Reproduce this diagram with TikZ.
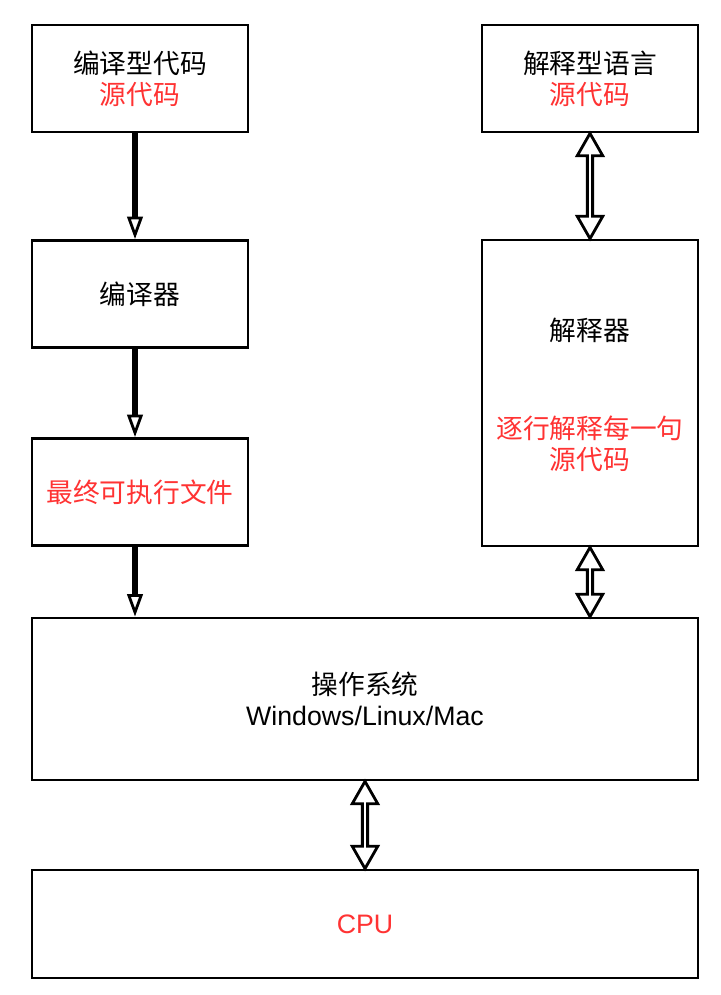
\documentclass[tikz,border=0pt]{standalone}
\usepackage{fontspec}
\setmainfont{Liberation Sans}
\newfontfamily\cjk{Noto Sans CJK SC}
\usepackage{tikz}
\usetikzlibrary{arrows.meta,calc}
\definecolor{rot}{HTML}{FF3333}
\tikzset{
  kasten/.style={draw=black,line width=2pt,fill=white,minimum width=5.4cm,minimum height=2.675cm,
    align=center,inner sep=0pt,font=\fontsize{19}{22}\selectfont},
  schrift/.style={align=center,inner sep=0pt,font=\fontsize{19}{22}\selectfont},
  pfeil/.style={-{Triangle[open,length=16pt,width=11pt,line width=2pt]},line width=4.2pt},
  dpf/.style={draw=black,fill=white,line width=2pt,line join=miter},
}
% Doppelpfeil als Umriss: von #1 (oben) nach #2 (unten)
\newcommand{\dpfeil}[2]{%
  \draw[dpf] (#1) -- ($(#1)+(0.32,-0.56)$) -- ($(#1)+(0.065,-0.56)$)
    -- ($(#2)+(0.065,0.56)$) -- ($(#2)+(0.32,0.56)$) -- (#2)
    -- ($(#2)+(-0.32,0.56)$) -- ($(#2)+(-0.065,0.56)$)
    -- ($(#1)+(-0.065,-0.56)$) -- ($(#1)+(-0.32,-0.56)$) -- cycle;}

\begin{document}
\begin{tikzpicture}
  \useasboundingbox[fill=white] (0,0) rectangle (18,-24.875);
  % linke Spalte: kompiliert
  \node[kasten] (quelle) at (3.5,-1.9625) {{\cjk 编译型代码}\\\textcolor{rot}{\cjk 源代码}};
  \node[kasten] (compiler) at (3.5,-7.35) {\cjk 编译器};
  \node[kasten] (exe) at (3.5,-12.3) {\textcolor{rot}{\cjk 最终可执行文件}};
  % rechte Spalte: interpretiert
  \node[kasten] (iquelle) at (14.75,-1.9625) {{\cjk 解释型语言}\\\textcolor{rot}{\cjk 源代码}};
  \node[kasten,minimum height=7.65cm] (interp) at (14.75,-9.825) {};
  \node[schrift] (interpname) at (14.75,-8.25) {\cjk 解释器};
  \node[schrift,text=rot] (interptext) at (14.75,-11.1) {\cjk 逐行解释每一句\\\cjk 源代码};
  % unten
  \node[kasten,minimum width=16.65cm,minimum height=4.05cm] (os) at (9.125,-17.475)
    {{\cjk 操作系统}\\Windows/Linux/Mac};
  \node[kasten,minimum width=16.65cm,minimum height=2.7cm] (cpu) at (9.125,-23.1)
    {\textcolor{rot}{CPU}};
  % Pfeile
  \coordinate (lk) at (3.375,0);
  \draw[pfeil] (quelle.south -| lk) -- (compiler.north -| lk);
  \draw[pfeil] (compiler.south -| lk) -- (exe.north -| lk);
  \draw[pfeil] (exe.south -| lk) -- (os.north -| lk);
  \dpfeil{iquelle.south}{interp.north}
  \dpfeil{interp.south}{os.north -| interp.south}
  \dpfeil{os.south}{cpu.north}
\end{tikzpicture}
\end{document}
